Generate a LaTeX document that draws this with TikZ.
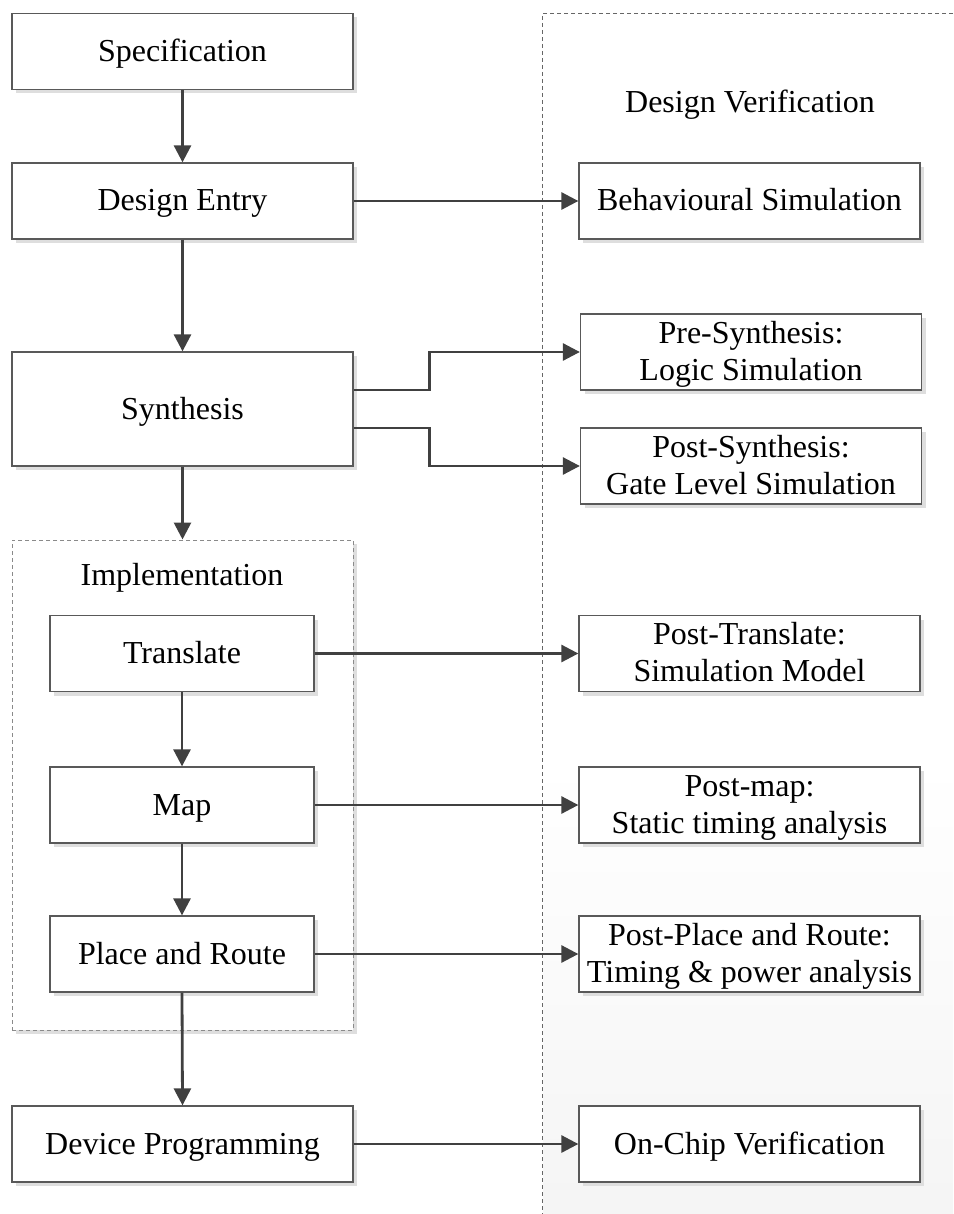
\documentclass[tikz,border=0pt]{standalone}
\usepackage{fontspec}
\setmainfont{Liberation Serif}
\usetikzlibrary{arrows.meta,shadows}
\definecolor{boxline}{HTML}{595959}
\definecolor{arrowline}{HTML}{404040}
\definecolor{zoneline}{HTML}{666666}
\definecolor{implline}{HTML}{8A8A8A}
\begin{document}
\begin{tikzpicture}[x=1pt,y=-1pt,
  shade box/.style={drop shadow={shadow xshift=4pt,shadow yshift=-4pt,fill=black!13,opacity=1}},
  box/.style={draw=boxline, line width=1.3pt, fill=white, minimum width=341pt,
    minimum height=76pt, inner sep=0pt, align=center,
    font=\fontsize{32}{37}\selectfont, shade box, text height=20pt, text depth=0pt},
  twoline/.style={text height=59pt, text depth=3pt},
  ibox/.style={box, minimum width=264pt},
  arr/.style={draw=arrowline, line width=2.8pt, -{Triangle[length=17pt,width=17pt]}},
  zone/.style={draw=zoneline, line width=1pt, dash pattern=on 4pt off 3pt},
  implzone/.style={draw=implline, line width=1pt, dash pattern=on 4pt off 3pt,
    fill=white, minimum width=341pt, minimum height=490pt, inner sep=0pt, shade box},
  lbl/.style={font=\fontsize{32}{37}\selectfont}]
\useasboundingbox (0,0) rectangle (953,1214);

% faint shading at the foot of the verification column
\shade[top color=white, bottom color=black!4] (543,760) rectangle (953,1214);

% verification column border
\draw[zone] (953,14) -- (542,14) -- (542,1214);
\node[lbl] (dvlabel) at (750,105) {Design Verification};

% implementation group
\node[implzone] (impl) at (182.5,785) {};
\node[lbl] (impllabel) at (182,578) {Implementation};

% design flow
\node[box] (spec) at (182.5,51.5) {Specification};
\node[box] (entry) at (182.5,201) {Design Entry};
\node[box, minimum height=114pt] (syn) at (182.5,409) {Synthesis};
\node[ibox] (trans) at (182,653.5) {Translate};
\node[ibox] (map) at (182,805) {Map};
\node[ibox] (par) at (182,954) {Place and Route};
\node[box] (dev) at (182.5,1144) {Device Programming};

% verification steps
\node[box] (beh) at (749.5,201) {Behavioural Simulation};
\node[box, twoline] (pre) at (751,352) {Pre-Synthesis:\\Logic Simulation};
\node[box, twoline] (post) at (751,466) {Post-Synthesis:\\Gate Level Simulation};
\node[box, twoline] (ptr) at (749.5,653.5) {Post-Translate:\\Simulation Model};
\node[box, twoline] (pmap) at (749.5,805) {Post-map:\\Static timing analysis};
\node[box, twoline] (ppr) at (749.5,954) {Post-Place and Route:\\Timing \& power analysis};
\node[box] (chip) at (749.5,1144) {On-Chip Verification};

% vertical flow
\draw[arr] (spec.south) -- (entry.north);
\draw[arr] (entry.south) -- (syn.north);
\draw[arr] (syn.south) -- (impl.north);
\draw[arr] (trans.south) -- (map.north);
\draw[arr] (map.south) -- (par.north);
\draw[arr] (par.south) -- (dev.north);

% links to verification
\draw[arr] (entry.east) -- (beh.west);
\draw[arr] ([yshift=19pt]syn.east) -- ++(76,0) |- (pre.west);
\draw[arr] ([yshift=-19pt]syn.east) -- ++(76,0) |- (post.west);
\draw[arr] (trans.east) -- (ptr.west);
\draw[arr] (map.east) -- (pmap.west);
\draw[arr] (par.east) -- (ppr.west);
\draw[arr] (dev.east) -- (chip.west);
\end{tikzpicture}
\end{document}
